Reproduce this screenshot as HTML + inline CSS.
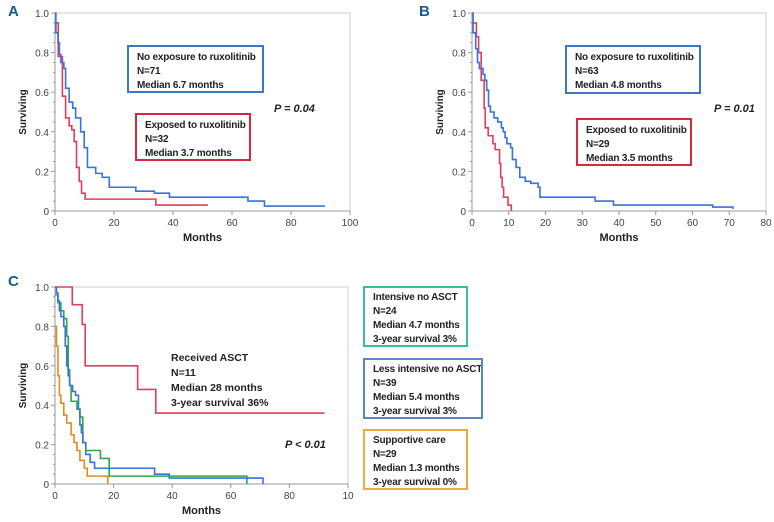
<!DOCTYPE html>
<html><head><meta charset="utf-8"><style>
body{margin:0;background:#fff;width:774px;height:522px;overflow:hidden;font-family:"Liberation Sans",sans-serif}
svg{position:absolute;left:0;top:0}
.box{position:absolute;border:2px solid;background:#fff;font:bold 10px "Liberation Sans",sans-serif;color:#222;line-height:14px;padding:3px 6px 0 8px;box-sizing:border-box;white-space:nowrap;overflow:hidden;letter-spacing:-0.2px}
.pv{position:absolute;font:italic bold 11px "Liberation Sans",sans-serif;color:#222}
.pl{position:absolute;font:bold 15px "Liberation Sans",sans-serif;color:#1a5a8a}
</style></head><body>
<svg id="svg" width="774" height="522"></svg>
<div class="pl" style="left:8px;top:3px">A</div>
<div class="pl" style="left:419px;top:3px">B</div>
<div class="pl" style="left:8px;top:273px">C</div>
<div class="box" style="left:127px;top:45px;width:137px;height:48px;border-color:#3b78c8;padding-top:4px">No exposure to ruxolitinib<br>N=71<br>Median 6.7 months</div>
<div class="box" style="left:135px;top:113px;width:116px;height:48px;border-color:#d8283f;padding-top:4px">Exposed to ruxolitinib<br>N=32<br>Median 3.7 months</div>
<div class="pv" style="left:274px;top:103px">P = 0.04</div>
<div class="box" style="left:565px;top:45px;width:136px;height:49px;border-color:#3b78c8;padding-top:4px">No exposure to ruxolitinib<br>N=63<br>Median 4.8 months</div>
<div class="box" style="left:576px;top:118px;width:116px;height:48px;border-color:#d8283f;padding-top:4px">Exposed to ruxolitinib<br>N=29<br>Median 3.5 months</div>
<div class="pv" style="left:714px;top:103px">P = 0.01</div>
<div style="position:absolute;left:171px;top:351px;font:bold 10.5px 'Liberation Sans',sans-serif;line-height:15px;color:#222;white-space:nowrap">Received ASCT<br>N=11<br>Median 28 months<br>3-year survival 36%</div>
<div class="pv" style="left:285px;top:439px">P &lt; 0.01</div>
<div class="box" style="left:363px;top:286px;width:105px;height:61px;border-color:#3bbf8f">Intensive no ASCT<br>N=24<br>Median 4.7 months<br>3-year survival 3%</div>
<div class="box" style="left:363px;top:358px;width:120px;height:61px;border-color:#5b86c4">Less intensive no ASCT<br>N=39<br>Median 5.4 months<br>3-year survival 3%</div>
<div class="box" style="left:363px;top:429px;width:105px;height:61px;border-color:#f0a840">Supportive care<br>N=29<br>Median 1.3 months<br>3-year survival 0%</div>
<script>
const yTicks=[0,0.2,0.4,0.6,0.8,1.0];
const yTickLabels=["0","0.2","0.4","0.6","0.8","1.0"];
const xTicksA=[0,20,40,60,80,100];
const xTickLabelsA=["0","20","40","60","80","100"];
const xTicksB=[0,10,20,30,40,50,60,70,80];
const xTickLabelsB=["0","10","20","30","40","50","60","70","80"];
const xTicksC=[0,20,40,60,80,100];
const xTickLabelsC=["0","20","40","60","80","10"];
const aBlue=[[0,1],[0.3,0.9],[1,0.85],[1.5,0.79],[2,0.75],[3,0.72],[3.6,0.62],[4.8,0.55],[6,0.52],[7,0.47],[8.7,0.40],[9.9,0.32],[11,0.22],[13.8,0.19],[16,0.17],[18.4,0.12],[27.4,0.10],[33.7,0.09],[38.8,0.07],[65.4,0.05],[71,0.025]];
const aBlueEnd=91.5;
const aRed=[[0,0.95],[1.1,0.78],[2.5,0.58],[3.6,0.47],[4.8,0.43],[5.7,0.41],[6.5,0.35],[7.3,0.22],[8.2,0.15],[9,0.09],[10.2,0.06],[34.2,0.03]];
const aRedEnd=51.8;
const bBlue=[[0,1],[0.3,0.9],[1,0.82],[1.5,0.75],[2,0.72],[3,0.69],[3.5,0.66],[4,0.61],[4.5,0.53],[5,0.5],[6,0.47],[7,0.45],[8,0.42],[8.5,0.4],[9,0.37],[9.5,0.34],[10.5,0.32],[11,0.26],[12,0.22],[13,0.17],[14.5,0.15],[16,0.14],[18,0.12],[18.5,0.07],[33.5,0.05],[38.5,0.03],[65.5,0.02],[71,0.01]];
const bBlueEnd=71;
const bRed=[[0,0.95],[1.2,0.88],[1.8,0.8],[2.5,0.66],[3.3,0.52],[3.6,0.42],[4.4,0.38],[5.7,0.34],[6.3,0.31],[7.5,0.24],[7.8,0.17],[8.2,0.12],[8.6,0.07],[9.8,0.03],[10.7,0]];
const bRedEnd=10.7;
const cRed=[[0,1],[5.9,0.91],[9.3,0.81],[10.3,0.6],[28.2,0.48],[34.4,0.36]];
const cRedEnd=92;
const cBlue=[[0,1],[0.5,0.97],[1,0.93],[1.5,0.88],[2,0.85],[3,0.8],[3.5,0.7],[4,0.6],[4.5,0.55],[5,0.5],[6,0.47],[7,0.45],[8,0.38],[8.5,0.3],[9,0.26],[9.5,0.21],[10.5,0.15],[12,0.11],[13.5,0.08],[34,0.05],[39,0.03],[71,0]];
const cBlueEnd=71;
const cGreen=[[0,0.96],[1,0.92],[2,0.88],[3,0.84],[4,0.75],[4.5,0.58],[5,0.5],[5.5,0.42],[7.5,0.38],[8.5,0.34],[9.5,0.21],[10.5,0.17],[15.5,0.13],[18.5,0.04],[65.5,0]];
const cGreenEnd=65.5;
const cOrange=[[0,0.8],[0.5,0.7],[1,0.55],[1.5,0.45],[2,0.41],[3,0.35],[4,0.31],[5.5,0.25],[6.5,0.21],[7.5,0.17],[8.5,0.12],[10,0.08],[11,0.04],[18,0]];
const cOrangeEnd=18;

const svg=document.getElementById('svg');
const NS='http://www.w3.org/2000/svg';
function mk(tag,attrs,parent){const e=document.createElementNS(NS,tag);for(const k in attrs)e.setAttribute(k,attrs[k]);(parent||svg).appendChild(e);return e;}
function panel(id,L,R,T,B,xmax,xt,xl){
  const g=mk('g',{});
  
  
  const sx=v=>L+(R-L)*v/xmax, sy=v=>B-(B-T)*v;
  const fr=mk('path',{d:`M${L},${T}H${R}V${B}`,fill:'none',stroke:'#ccc','stroke-width':1},g);
  
  
  const ax=mk('path',{d:`M${L},${T}V${B}H${R}`,fill:'none',stroke:'#999','stroke-width':1},g);
  
  
  for(let i=0;i<=20;i++){const y=sy(i/20);mk('line',{x1:L-(i%4==0?4:2),x2:L,y1:y,y2:y,stroke:'#999'},g);}
  yTicks.forEach((v,i)=>{const t=mk('text',{x:L-6,y:sy(v)+4,'text-anchor':'end','font-size':10,fill:'#444'},g);t.textContent=yTickLabels[i];
    
    });
  xt.forEach((v,i)=>{const x=sx(v);mk('line',{x1:x,x2:x,y1:B,y2:B+4,stroke:'#999'},g);
    const t=mk('text',{x:x,y:B+15,'text-anchor':'middle','font-size':10,fill:'#444'},g);t.textContent=xl[i];
    
    });
  const yt=mk('text',{x:0,y:0,'text-anchor':'middle','font-size':10,'font-weight':'bold',fill:'#222',transform:`translate(${L-29},${(T+B)/2}) rotate(-90)`},g);yt.textContent='Surviving';
  
  
  const xtt=mk('text',{x:(L+R)/2,y:B+30,'text-anchor':'middle','font-size':11,'font-weight':'bold',fill:'#222'},g);xtt.textContent='Months';
  
  
  return {g,sx,sy};
}
function curve(p,data,end,color,name){
  let d=`M${p.sx(data[0][0])},${p.sy(data[0][1])}`;
  for(let i=1;i<data.length;i++){d+=`H${p.sx(data[i][0])}V${p.sy(data[i][1])}`;}
  d+=`H${p.sx(end)}`;
  const e=mk('path',{d,fill:'none',stroke:color,'stroke-width':1.6},p.g);
  
  
}
const pA=panel('a',55,350,13,211,100,xTicksA,xTickLabelsA);
curve(pA,aRed,aRedEnd,'#e23d5c','curve-a-exposed');
curve(pA,aBlue,aBlueEnd,'#3a72d6','curve-a-no-exposure');
const pB=panel('b',472,766,13,211,80,xTicksB,xTickLabelsB);
curve(pB,bRed,bRedEnd,'#e23d5c','curve-b-exposed');
curve(pB,bBlue,bBlueEnd,'#3a72d6','curve-b-no-exposure');
const pC=panel('c',55,348,287,484,100,xTicksC,xTickLabelsC);
curve(pC,cRed,cRedEnd,'#e23d5c','curve-c-received-asct');
curve(pC,cOrange,cOrangeEnd,'#e8891a','curve-c-supportive');
curve(pC,cGreen,cGreenEnd,'#2ea84a','curve-c-intensive');
curve(pC,cBlue,cBlueEnd,'#3a72d6','curve-c-less-intensive');
</script>
</body></html>
